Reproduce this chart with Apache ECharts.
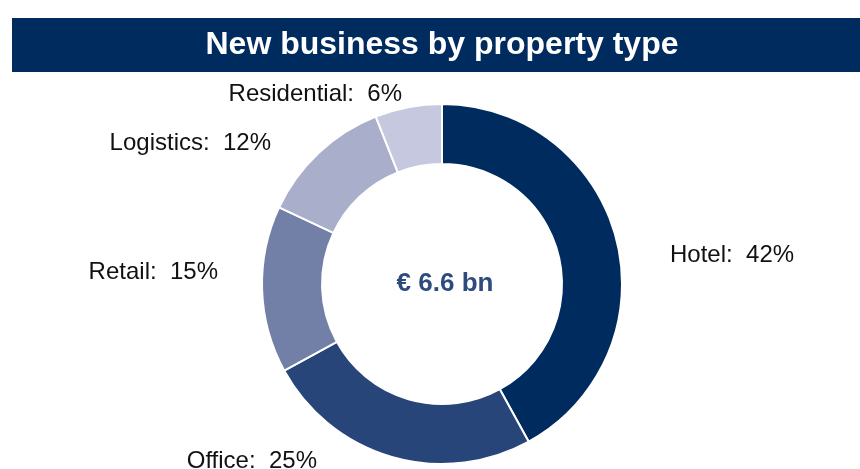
<!DOCTYPE html>
<html>
<head>
<meta charset="utf-8">
<script src="https://cdn.jsdelivr.net/npm/echarts@6/dist/echarts.min.js"></script>
<style>
  html, body { margin: 0; padding: 0; background: #fff; }
  #chart { width: 860px; height: 469px; }
</style>
</head>
<body>
<div id="chart"></div>
<script>
// data
var categories = ['Hotel', 'Office', 'Retail', 'Logistics', 'Residential'];
var shares = [42, 25, 15, 12, 6];
var sliceColors = ['#002b5f', '#28457a', '#7280a8', '#a9aecb', '#c5c8df'];
var titleText = 'New business by property type';
var centerText = '€ 6.6 bn';

// label anchors (x, y, align)
var labelSpots = [
  [670, 255, 'left'],
  [317, 461, 'right'],
  [218, 272, 'right'],
  [271, 143, 'right'],
  [402, 94, 'right']
];

var chart = echarts.init(document.getElementById('chart'));

var option = {
  animation: false,
  backgroundColor: '#fff',
  graphic: [
    {
      type: 'rect',
      shape: { x: 12, y: 18, width: 848, height: 54 },
      style: { fill: '#002b5f' }
    },
    {
      type: 'text',
      x: 442,
      y: 45,
      style: {
        text: titleText,
        fill: '#fff',
        font: 'bold 32px "Liberation Sans", Arial, sans-serif',
        textAlign: 'center',
        textVerticalAlign: 'middle'
      }
    },
    {
      type: 'text',
      x: 445,
      y: 284,
      style: {
        text: centerText,
        fill: '#2e4a7e',
        font: 'bold 26px "Liberation Sans", Arial, sans-serif',
        textAlign: 'center',
        textVerticalAlign: 'middle'
      }
    }
  ],
  series: [
    {
      type: 'pie',
      center: [442, 284],
      radius: [120, 180],
      startAngle: 90,
      clockwise: true,
      silent: true,
      itemStyle: { borderColor: '#fff', borderWidth: 2 },
      label: {
        show: true,
        position: 'outside',
        formatter: '{b}:  {c}%',
        color: '#111',
        fontFamily: '"Liberation Sans", Arial, sans-serif',
        fontSize: 24
      },
      labelLine: { show: false },
      labelLayout: function (params) {
        var s = labelSpots[params.dataIndex];
        return { x: s[0], y: s[1], align: s[2], verticalAlign: 'middle' };
      },
      data: categories.map(function (name, i) {
        return { name: name, value: shares[i], itemStyle: { color: sliceColors[i] } };
      })
    }
  ]
};

chart.setOption(option);
</script>
</body>
</html>
